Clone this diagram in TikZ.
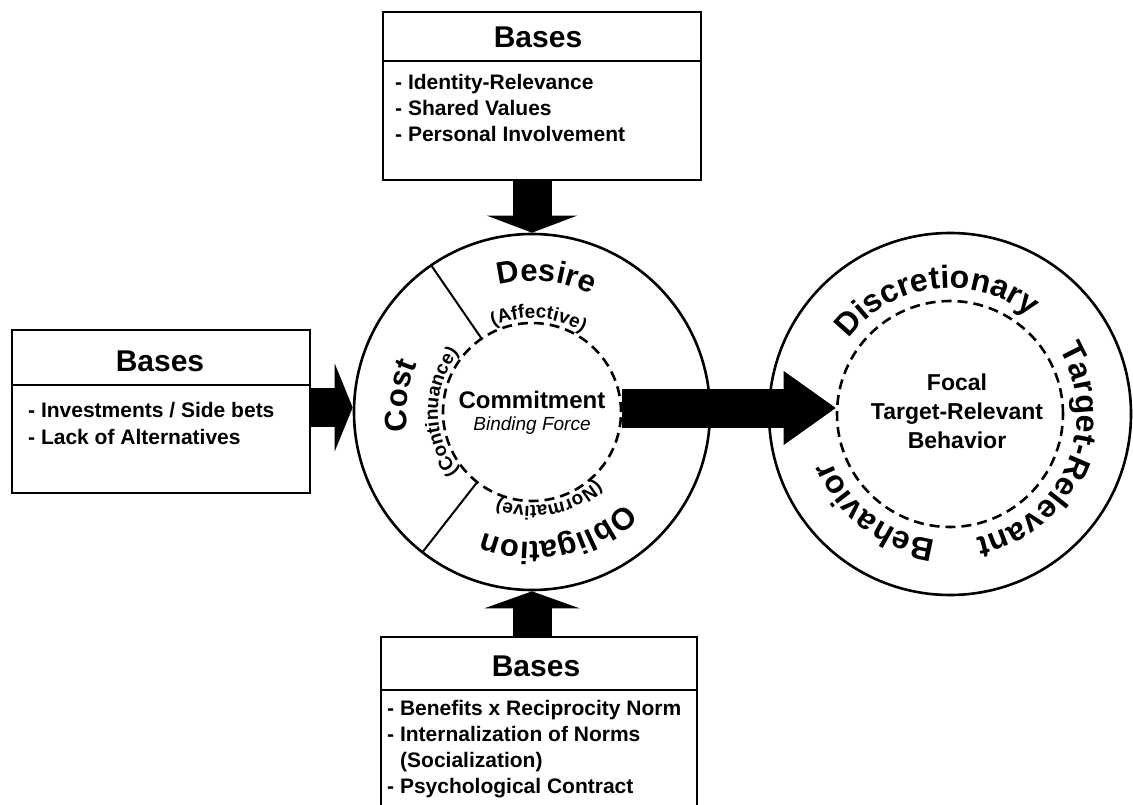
\documentclass[tikz,border=0pt]{standalone}
\usepackage{fontspec}
\setmainfont{Liberation Sans}
\usetikzlibrary{arrows.meta,decorations.text,calc}
\newcommand\bigarcfont{\fontsize{31}{31}\selectfont\bfseries}
\newcommand\smallarcfont{\fontsize{19}{19}\selectfont\bfseries}
\newcommand\behavarcfont{\fontsize{32}{32}\selectfont\bfseries}
\tikzset{
  basebox/.style={draw, line width=2.5pt, rectangle, inner sep=0pt},
  divline/.style={line width=2.5pt},
  headtxt/.style={font=\fontsize{30}{30}\selectfont\bfseries, anchor=base, inner sep=0pt},
  bodytxt/.style={font=\fontsize{21}{26}\selectfont\bfseries, anchor=base west, inner sep=0pt},
  ring/.style={circle, draw, line width=2.6pt, inner sep=0pt},
  dring/.style={circle, draw, line width=2.6pt, dash pattern=on 10pt off 6pt, inner sep=0pt},
  sector/.style={line width=2pt},
  fatarrow/.style 2 args={line width=39pt, -{Triangle[length=#1pt, width=#2pt, line width=0pt]}},
  ctext/.style={decorate, decoration={text along path, text align=center, text={#1}}}
}
\begin{document}
\begin{tikzpicture}[x=1pt, y=1pt]
\useasboundingbox (0,0) rectangle (1133,-805);
\clip (0,0) rectangle (1133,-805);

% ---------- Commitment circle ----------
\coordinate (cc) at (532,-412);
\node[ring, minimum size=356pt] (commit) at (cc) {};
\node[dring, minimum size=178pt] (cin) at (cc) {};
\draw[sector] ([shift={(124.5:89pt)}]cc) -- ([shift={(124.5:178pt)}]cc);
\draw[sector] ([shift={(232:89pt)}]cc) -- ([shift={(232:178pt)}]cc);

\path[ctext={|\bigarcfont|Desire}] ([shift={(144:131pt)}]cc) arc[start angle=144, end angle=24, radius=131pt];
\path[ctext={|\bigarcfont|Cost}] ([shift={(233:125pt)}]cc) arc[start angle=233, end angle=113, radius=125pt];
\path[ctext={|\bigarcfont|Obligation}] ([shift={(-8:130pt)}]cc) arc[start angle=-8, end angle=-148, radius=130pt];
\path[ctext={|\smallarcfont|(Affective)}] ([shift={(156:94pt)}]cc) arc[start angle=156, end angle=16, radius=94pt];
\path[ctext={|\smallarcfont|(Continuance)}] ([shift={(250:94pt)}]cc) arc[start angle=250, end angle=110, radius=94pt];
\path[ctext={|\smallarcfont|(Normative)}] ([shift={(-9:94pt)}]cc) arc[start angle=-9, end angle=-149, radius=94pt];

\node[font=\fontsize{24}{24}\selectfont\bfseries, anchor=base, inner sep=0pt] (ctitle) at (532,-408.5) {Commitment};
\node[font=\fontsize{19}{19}\selectfont\itshape, anchor=base, inner sep=0pt] (csub) at (532,-430) {Binding Force};

% ---------- Behavior circle ----------
\coordinate (bc) at (950,-414);
\node[ring, minimum size=362pt] (bout) at (bc) {};
\node[dring, minimum size=226pt] (bin) at (bc) {};
\path[ctext={|\behavarcfont|Discretionary}] ([shift={(167:126pt)}]bc) arc[start angle=167, end angle=27, radius=126pt];
\path[ctext={|\behavarcfont|Target-Relevant}] ([shift={(56.5:127pt)}]bc) arc[start angle=56.5, end angle=-103.5, radius=127pt];
\path[ctext={|\behavarcfont|Behavior}] ([shift={(302.5:127pt)}]bc) arc[start angle=302.5, end angle=162.5, radius=127pt];
\node[font=\fontsize{23}{29}\selectfont\bfseries, align=center, inner sep=0pt] (btxt) at (957,-411) {Focal\\Target-Relevant\\Behavior};

% ---------- Top box ----------
\node[basebox, minimum width=318pt, minimum height=168pt] (topbox) at (542,-96) {};
\draw[divline] (topbox.west |- 0,-61) -- (topbox.east |- 0,-61);
\node[headtxt] (th) at (538,-48) {Bases};
\node[bodytxt] (t1) at (395,-90) {- Identity-Relevance};
\node[bodytxt] (t2) at (395,-116) {- Shared Values};
\node[bodytxt] (t3) at (395,-142) {- Personal Involvement};

% ---------- Left box ----------
\node[basebox, minimum width=298pt, minimum height=163pt] (lbox) at (161,-411.5) {};
\draw[divline] (lbox.west |- 0,-385) -- (lbox.east |- 0,-385);
\node[headtxt] (lh) at (160,-371) {Bases};
\node[bodytxt] (l1) at (28,-417) {- Investments / Side bets};
\node[bodytxt] (l2) at (28,-444) {- Lack of Alternatives};

% ---------- Bottom box ----------
\node[basebox, minimum width=316pt, minimum height=200pt] (bbox) at (539,-737) {};
\draw[divline] (bbox.west |- 0,-690) -- (bbox.east |- 0,-690);
\node[headtxt] (bh) at (536,-676) {Bases};
\node[bodytxt] (b1) at (387,-715) {- Benefits x Reciprocity Norm};
\node[bodytxt] (b2) at (387,-741) {- Internalization of Norms};
\node[bodytxt] (b3) at (400,-767) {(Socialization)};
\node[bodytxt] (b4) at (387,-793) {- Psychological Contract};

% ---------- Arrows ----------
\coordinate (la) at ([yshift=4pt]lbox.east);
\draw[fatarrow={18}{88}] (la) -- (la -| commit.west);
\draw[fatarrow={17}{90}] (topbox.south -| cc) -- (commit.north);
\draw[fatarrow={17}{95}] (bbox.north -| cc) -- (commit.south);
\coordinate (ma) at ([yshift=4pt]cin.east);
\draw[fatarrow={52}{74}] (ma) -- (ma -| bin.west);
\end{tikzpicture}
\end{document}
